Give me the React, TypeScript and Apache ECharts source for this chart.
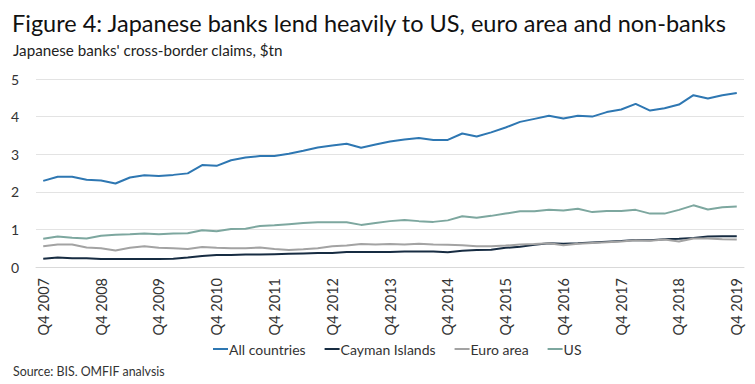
import React, { useEffect, useRef } from "react";
import * as echarts from "echarts";

const years = [2007, 2008, 2009, 2010, 2011, 2012, 2013, 2014, 2015, 2016, 2017, 2018, 2019];
const quarters: string[] = [];
years.forEach((y, idx) => {
  if (idx === 0) {
    quarters.push("Q4 " + y);
  } else {
    ["Q1", "Q2", "Q3", "Q4"].forEach((q) => quarters.push(q + " " + y));
  }
});

const allCountries = [
  2.29, 2.4, 2.4, 2.32, 2.3, 2.22, 2.38, 2.44, 2.42, 2.45, 2.49, 2.71,
  2.69, 2.84, 2.91, 2.95, 2.95, 3.01, 3.09, 3.18, 3.23, 3.28, 3.17, 3.26,
  3.34, 3.39, 3.43, 3.38, 3.38, 3.55, 3.47, 3.58, 3.71, 3.86, 3.94, 4.02,
  3.95, 4.02, 4.0, 4.12, 4.19, 4.34, 4.16, 4.22, 4.32, 4.57, 4.48, 4.57, 4.63,
];
const cayman = [
  0.22, 0.25, 0.23, 0.23, 0.21, 0.21, 0.21, 0.21, 0.21, 0.22, 0.25, 0.29,
  0.32, 0.32, 0.33, 0.33, 0.34, 0.35, 0.36, 0.37, 0.37, 0.4, 0.4, 0.4,
  0.4, 0.41, 0.41, 0.41, 0.39, 0.43, 0.45, 0.46, 0.51, 0.54, 0.59, 0.63,
  0.62, 0.63, 0.65, 0.67, 0.69, 0.72, 0.71, 0.74, 0.75, 0.77, 0.81, 0.82, 0.82,
];
const euroArea = [
  0.55, 0.6, 0.6, 0.52, 0.5, 0.44, 0.51, 0.55, 0.51, 0.5, 0.48, 0.53,
  0.51, 0.5, 0.5, 0.52, 0.48, 0.45, 0.47, 0.5, 0.55, 0.57, 0.61, 0.6,
  0.61, 0.6, 0.62, 0.6, 0.59, 0.58, 0.55, 0.55, 0.57, 0.6, 0.61, 0.63,
  0.58, 0.62, 0.64, 0.66, 0.68, 0.71, 0.7, 0.73, 0.68, 0.76, 0.76, 0.74, 0.73,
];
const us = [
  0.75, 0.81, 0.78, 0.76, 0.83, 0.86, 0.87, 0.89, 0.87, 0.89, 0.9, 0.98,
  0.95, 1.01, 1.02, 1.09, 1.11, 1.14, 1.17, 1.19, 1.19, 1.19, 1.12, 1.17,
  1.22, 1.25, 1.22, 1.2, 1.24, 1.35, 1.31, 1.36, 1.42, 1.48, 1.48, 1.52,
  1.5, 1.55, 1.46, 1.49, 1.49, 1.52, 1.42, 1.42, 1.52, 1.64, 1.53, 1.59, 1.61,
];
const yTicks = [0, 1, 2, 3, 4, 5];

const seriesDefs = [
  { name: "All countries", data: allCountries, color: "#2e77b2" },
  { name: "Cayman Islands", data: cayman, color: "#172c42" },
  { name: "Euro area", data: euroArea, color: "#a3a3a3" },
  { name: "US", data: us, color: "#7da79f" },
];

export default function App() {
  const ref = useRef<HTMLDivElement>(null);
  useEffect(() => {
    if (!ref.current) return;
    const chart = echarts.init(ref.current, undefined, { renderer: "svg" });
    const font = "Lato, 'Open Sans', sans-serif";
    chart.setOption({
      animation: false,
      backgroundColor: "#ffffff",
      textStyle: { fontFamily: font },
      title: [
        {
          text: "Figure 4: Japanese banks lend heavily to US, euro area and non-banks",
          left: 7,
          top: 6,
          textStyle: { fontFamily: font, fontSize: 23.5, fontWeight: "normal", color: "#111111" },
        },
        {
          text: "Japanese banks' cross-border claims, $tn",
          left: 8,
          top: 37,
          textStyle: { fontFamily: font, fontSize: 15.2, fontWeight: "normal", color: "#222222" },
        },
        {
          text: "Source: BIS, OMFIF analysis",
          left: 8,
          top: 360,
          textStyle: { fontFamily: font, fontSize: 12.4, fontWeight: "normal", color: "#333333" },
        },
      ],
      legend: {
        bottom: 23,
        left: 208,
        itemWidth: 15,
        itemHeight: 2,
        itemGap: 19,
        icon: "rect",
        textStyle: { fontFamily: font, fontSize: 14, color: "#333333", padding: [0, 0, 0, -4] },
        data: seriesDefs.map((s) => s.name),
      },
      grid: { left: 36, right: 11, top: 79, bottom: 117, containLabel: false },
      xAxis: {
        type: "category",
        data: quarters,
        boundaryGap: true,
        axisLine: { show: true, lineStyle: { color: "#d9d9d9" } },
        axisTick: { show: false },
        axisLabel: {
          rotate: 90,
          interval: 3,
          margin: 11,
          fontFamily: font,
          fontSize: 14.5,
          color: "#333333",
        },
      },
      yAxis: {
        type: "value",
        min: yTicks[0],
        max: yTicks[yTicks.length - 1],
        interval: 1,
        axisLine: { show: false },
        axisTick: { show: false },
        axisLabel: { fontFamily: font, fontSize: 14, color: "#333333", margin: 17 },
        splitLine: { show: true, lineStyle: { color: "#e3e3e3", width: 1 } },
      },
      series: seriesDefs.map((s) => ({
        name: s.name,
        type: "line",
        data: s.data,
        symbol: "none",
        lineStyle: { color: s.color, width: 2 },
        itemStyle: { color: s.color },
      })),
    });
    return () => chart.dispose();
  }, []);
  return <div ref={ref} style={{ width: 755, height: 384, margin: -8 }} />;
}
